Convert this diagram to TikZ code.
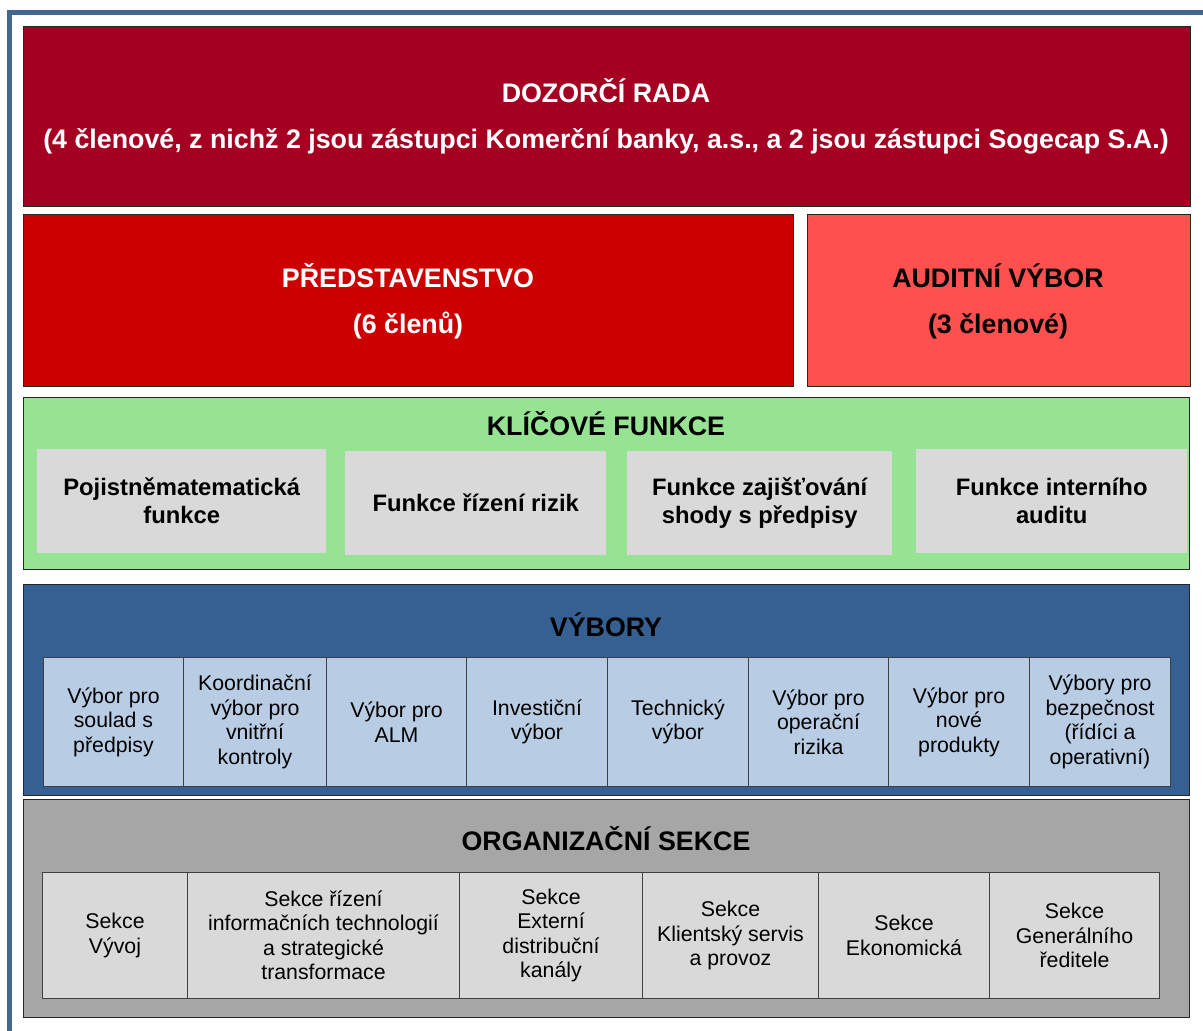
\documentclass[tikz,border=0pt]{standalone}
\usepackage{fontspec}
\setmainfont{Liberation Sans}
\definecolor{frameblue}{HTML}{41668F}
\definecolor{dozor}{HTML}{A50021}
\definecolor{pred}{HTML}{CC0000}
\definecolor{audit}{HTML}{FF5050}
\definecolor{keygreen}{HTML}{96E493}
\definecolor{subgray}{HTML}{D9D9D9}
\definecolor{vybblue}{HTML}{366092}
\definecolor{cellblue}{HTML}{B8CCE4}
\definecolor{orggray}{HTML}{A6A6A6}
\tikzset{
  band/.style={draw=black!85, line width=1.2pt, anchor=north west, inner sep=0pt},
  bigtitle/.style={font=\bfseries\fontsize{26.8}{30}\selectfont, align=center, inner sep=0pt},
  keybox/.style={fill=subgray, anchor=north west, inner sep=0pt, align=center,
    font=\bfseries\fontsize{23.8}{28}\selectfont, minimum height=104pt},
  cellbox/.style={draw=black!75, line width=1pt, anchor=north west, inner sep=0pt, align=center,
    font=\fontsize{21.3}{24.5}\selectfont},
  vcell/.style={cellbox, fill=cellblue, minimum height=129pt, inner ysep=0pt},
}
\begin{document}
\begin{tikzpicture}[x=1pt,y=-1pt]
\useasboundingbox (0,0) rectangle (1203,1031);
\draw[frameblue, line width=5pt] (9.5,12) rectangle (1215,1045);

% Dozorci rada
\node[band, fill=dozor, minimum width=1167pt, minimum height=180pt] (dr) at (23,26) {};
\node[bigtitle, text=white] (drt) at (606,91) {DOZORČÍ RADA};
\node[bigtitle, text=white] (drs) at (606,141) {(4 členové, z nichž 2 jsou zástupci Komerční banky, a.s., a 2 jsou zástupci Sogecap S.A.)};

% Predstavenstvo
\node[band, fill=pred, minimum width=770pt, minimum height=172pt] (pr) at (23,214) {};
\node[bigtitle, text=white] (prt) at (408,276) {PŘEDSTAVENSTVO};
\node[bigtitle, text=white] (prs) at (408,326) {(6 členů)};

% Auditni vybor
\node[band, fill=audit, minimum width=383pt, minimum height=172pt] (av) at (807,214) {};
\node[bigtitle, text=black] (avt) at (998,276) {AUDITNÍ VÝBOR};
\node[bigtitle, text=black] (avs) at (998,326) {(3 členové)};

% Klicove funkce
\node[band, fill=keygreen, minimum width=1166pt, minimum height=172pt] (kf) at (23,397) {};
\node[bigtitle, text=black] (kft) at (606,424) {KLÍČOVÉ FUNKCE};
\node[keybox, minimum width=289pt] (k1) at (37,449) {Pojistněmatematická\\funkce};
\node[keybox, minimum width=261pt] (k2) at (345,451) {Funkce řízení rizik};
\node[keybox, minimum width=265pt] (k3) at (627,451) {Funkce zajišťování\\shody s předpisy};
\node[keybox, minimum width=271pt] (k4) at (916,449) {Funkce interního\\auditu};

% Vybory
\node[band, fill=vybblue, minimum width=1166pt, minimum height=211pt] (vy) at (23,584) {};
\node[bigtitle, text=black] (vyt) at (606,625) {VÝBORY};
\node[vcell, minimum width=140pt] (v1) at (43,657) {Výbor pro\\soulad s\\předpisy};
\node[vcell, minimum width=143pt] (v2) at (183,657) {Koordinační\\výbor pro\\vnitřní\\kontroly};
\node[vcell, minimum width=140pt] (v3) at (326,657) {Výbor pro\\ALM};
\node[vcell, minimum width=141pt] (v4) at (466,657) {Investiční\\výbor};
\node[vcell, minimum width=141pt] (v5) at (607,657) {Technický\\výbor};
\node[vcell, minimum width=140pt] (v6) at (748,657) {Výbor pro\\operační\\rizika};
\node[vcell, minimum width=141pt] (v7) at (888,657) {Výbor pro\\nové\\produkty};
\node[vcell, minimum width=141pt] (v8) at (1029,657) {Výbory pro\\bezpečnost\\(řídíci a\\operativní)};

% Organizacni sekce
\node[band, fill=orggray, minimum width=1166pt, minimum height=218pt] (os) at (23,799) {};
\node[bigtitle, text=black] (ost) at (606,839) {ORGANIZAČNÍ SEKCE};
\node[cellbox, fill=subgray, minimum width=145pt, minimum height=126pt] (o1) at (42,872) {Sekce\\Vývoj};
\node[cellbox, fill=subgray, minimum width=272pt, minimum height=126pt] (o2) at (187,872) {Sekce řízení\\informačních technologií\\a strategické\\transformace};
\node[cellbox, fill=subgray, minimum width=183pt, minimum height=126pt] (o3) at (459,872) {Sekce\\Externí\\distribuční\\kanály};
\node[cellbox, fill=subgray, minimum width=176pt, minimum height=126pt] (o4) at (642,872) {Sekce\\Klientský servis\\a provoz};
\node[cellbox, fill=subgray, minimum width=171pt, minimum height=126pt] (o5) at (818,872) {Sekce\\Ekonomická};
\node[cellbox, fill=subgray, minimum width=170pt, minimum height=126pt] (o6) at (989,872) {Sekce\\Generálního\\ředitele};
\end{tikzpicture}
\end{document}
